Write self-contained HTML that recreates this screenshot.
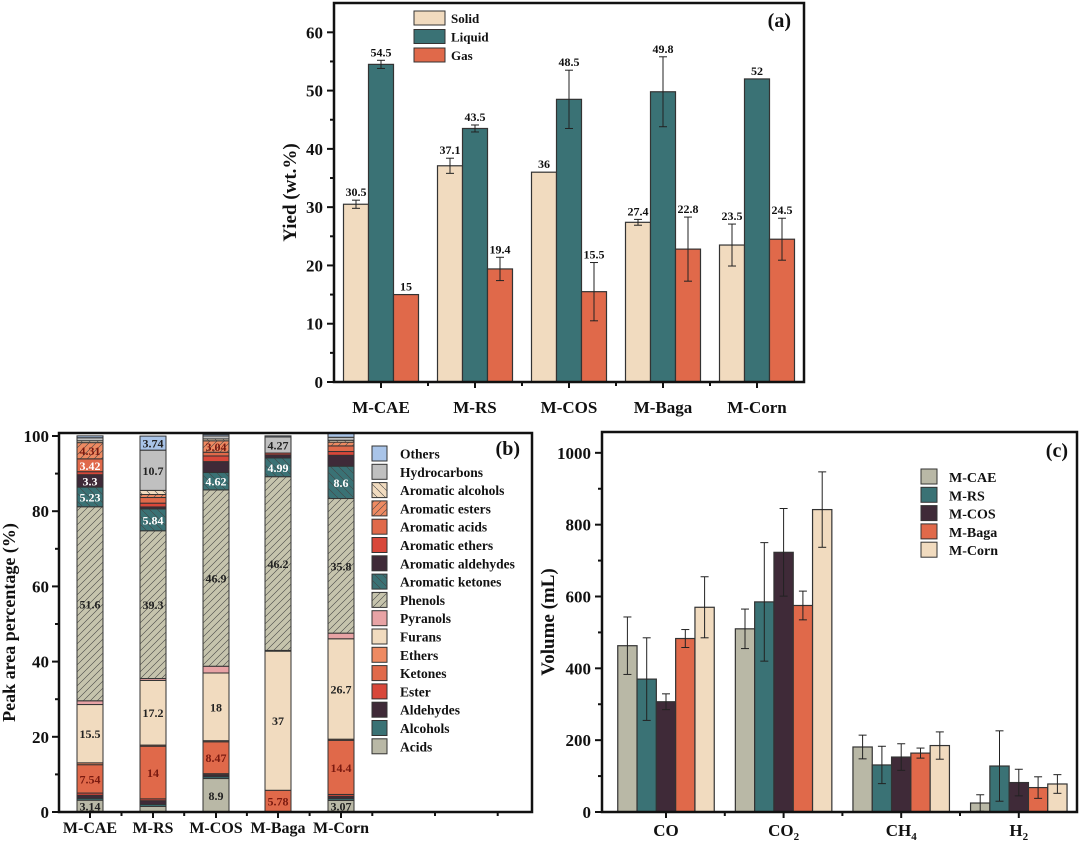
<!DOCTYPE html>
<html><head><meta charset="utf-8"><style>
html,body{margin:0;padding:0;background:#fff;}
svg text{font-family:"Liberation Serif",serif;font-weight:bold;fill:#111;}
</style></head><body>
<svg id="fig" width="1080" height="843" viewBox="0 0 1080 843" xmlns="http://www.w3.org/2000/svg">
<defs>
<pattern id="hfw" width="7" height="7" patternUnits="userSpaceOnUse"><path d="M0,7 L7,0 M-1,1 L1,-1 M6,8 L8,6" stroke="#444" stroke-width="0.6"/></pattern>
<pattern id="hbk" width="8" height="8" patternUnits="userSpaceOnUse"><path d="M0,0 L8,8" stroke="#444" stroke-width="0.6"/></pattern>
</defs>
<g id="pa"></g>
<g id="pb"></g>
<g id="pc"></g>
</svg>
<script>
// ---------- Panel (a) data ----------
const aCategories = ["M-CAE","M-RS","M-COS","M-Baga","M-Corn"];
const aSeries = ["Solid","Liquid","Gas"];
const aSolid = [30.5,37.1,36,27.4,23.5];
const aLiquid = [54.5,43.5,48.5,49.8,52];
const aGas = [15,19.4,15.5,22.8,24.5];
const aSolidErr = [0.7,1.3,0,0.5,3.6];
const aLiquidErr = [0.7,0.6,5,6,0];
const aGasErr = [0,2,5,5.5,3.6];
const aTicks = [0,10,20,30,40,50,60];

// ---------- Panel (b) data ----------
const bCategories = ["M-CAE","M-RS","M-COS","M-Baga","M-Corn"];
const bComponents = ["Acids","Alcohols","Aldehydes","Ester","Ketones","Ethers","Furans","Pyranols","Phenols","Aromatic ketones","Aromatic aldehydes","Aromatic ethers","Aromatic acids","Aromatic esters","Aromatic alcohols","Hydrocarbons","Others"];
const bCAE  = [3.14,0.5,0.8,0.6,7.54,0.5,15.5,1.0,51.6,5.23,3.3,0.8,3.42,4.31,0.5,0.8,0.5];
const bRS   = [1.5,0.5,1.0,0.5,14,0.3,17.2,0.5,39.3,5.84,0.5,1.0,1.5,0.8,1.1,10.7,3.74];
const bCOS  = [8.9,0.5,0.5,0.3,8.47,0.3,18,1.8,46.9,4.62,2.9,1.5,1.0,3.04,0.5,0.8,0.4];
const bBaga = [0,0,0,0,5.78,0,37,0.2,46.2,4.99,0.8,0.5,0,0,0,4.27,0.3];
const bCorn = [3.07,0.5,0.6,0.5,14.4,0.3,26.7,1.5,35.8,8.6,2.9,1.0,1.5,1.0,0.5,0.8,1.0];
const bTicks = [0,20,40,60,80,100];

// ---------- Panel (c) data ----------
const cGases = ["CO","CO2","CH4","H2"];
const cSamples = ["M-CAE","M-RS","M-COS","M-Baga","M-Corn"];
const cCAE  = [463,510,181,25];
const cRS   = [370,585,131,128];
const cCOS  = [307,723,153,82];
const cBaga = [483,575,164,68];
const cCorn = [570,842,185,78];
const cCAEErr  = [80,55,33,23];
const cRSErr   = [115,165,52,98];
const cCOSErr  = [22,122,37,37];
const cBagaErr = [25,40,14,30];
const cCornErr = [85,105,38,26];
const cTicks = [0,200,400,600,800,1000];

const NS="http://www.w3.org/2000/svg";
function mk(parent,tag,attrs){const e=document.createElementNS(NS,tag);for(const k in attrs)e.setAttribute(k,attrs[k]);parent.appendChild(e);return e;}
function txt(parent,x,y,s,size,anchor,fill){const t=mk(parent,"text",{x:x,y:y,"font-size":size,"text-anchor":anchor||"middle"});if(fill)t.style.fill=fill;t.textContent=s;return t;}
function errbar(g,x,y1,y2,w){mk(g,"line",{x1:x,x2:x,y1:y1,y2:y2,stroke:"#222","stroke-width":1});mk(g,"line",{x1:x-w,x2:x+w,y1:y1,y2:y1,stroke:"#222","stroke-width":1});mk(g,"line",{x1:x-w,x2:x+w,y1:y2,y2:y2,stroke:"#222","stroke-width":1});}

// ===== Panel A =====
(function(){
 const g=document.getElementById("pa");
 const L=334,R=804,T=3,B=382,ymax=65.03;
 const y=v=>B-(v/ymax)*(B-T);
 const step=(R-L)/5, x0=L+step/2, bw=25;
 const cols=["#f1dbbf","#3a7275","#e0694a"];
 const vals=[aSolid,aLiquid,aGas], errs=[aSolidErr,aLiquidErr,aGasErr];
 aCategories.forEach((c,i)=>{
  const cx=x0+i*step;
  for(let s=0;s<3;s++){
   const bx=cx+(s-1)*bw-bw/2, v=vals[s][i];
   const r=mk(g,"rect",{x:bx,y:y(v),width:bw,height:B-y(v),fill:cols[s],stroke:"#333","stroke-width":1.2});
   
   
   const e=errs[s][i];
   if(e>0)errbar(g,bx+bw/2,y(v+e),y(v-e),4);
   const lt=txt(g,bx+bw/2,y(v+e)-4,String(v),12);
   
   
  }
  mk(g,"line",{x1:cx,x2:cx,y1:B,y2:B+6,stroke:"#111","stroke-width":2});
  if(i<4)mk(g,"line",{x1:cx+step/2,x2:cx+step/2,y1:B,y2:B+4,stroke:"#111","stroke-width":2});
  const xl=txt(g,cx,B+31,c,17);
  
  
 });
 mk(g,"rect",{x:L,y:T,width:R-L,height:B-T,fill:"none",stroke:"#111","stroke-width":2.5});
 aTicks.forEach(t=>{
  mk(g,"line",{x1:L-7,x2:L,y1:y(t),y2:y(t),stroke:"#111","stroke-width":2});
  if(t<60)mk(g,"line",{x1:L-4,x2:L,y1:y(t+5),y2:y(t+5),stroke:"#111","stroke-width":2});
  const tl=txt(g,L-11,y(t)+6,String(t),17,"end");
  
  
 });
 const yt=txt(g,0,0,"Yied (wt.%)",19);
 yt.setAttribute("transform","translate(296,"+((T+B)/2)+") rotate(-90)");
 
 
 const pl=txt(g,791,27,"(a)",20,"end");
 
 
 aSeries.forEach((s,i)=>{
  const ly=11+i*18.5;
  const lg=mk(g,"g",{});
  
  
  mk(lg,"rect",{x:414,y:ly,width:31,height:14,fill:cols[i],stroke:"#333","stroke-width":1});
  txt(lg,451,ly+12,s,13,"start");
 });
})();

// ===== Panel B =====
(function(){
 const g=document.getElementById("pb");
 const L=59,R=532,T=433,B=812,ymax=100.8;
 const y=v=>B-(v/ymax)*(B-T);
 const centers=[90,153,216,278,341], bw=26;
 const fills=["#b9b8a6","#3a7275","#3f2a38","#d8473a","#e0694a","#ee8a62","#f1dbbf","#e8a3a5","#c6c4ad","#3a7275","#3f2a38","#d8473a","#e0694a","#ee8a62","#f1dbbf","#c0c0c0","#a9c4e8"];
 const hatch=[null,null,null,null,null,null,null,null,"hfw","hbk",null,null,null,"hfw","hbk",null,null];
 const txtCol=["#222","#fff","#fff","#fff","#7a1a10","#222","#222","#222","#222","#fff","#fff","#fff","#fff","#7a1a10","#222","#222","#222"];
 const data=[bCAE,bRS,bCOS,bBaga,bCorn];
 data.forEach((arr,i)=>{
  let acc=0; const cx=centers[i];
  arr.forEach((v,k)=>{
   if(v<=0)return;
   const y1=y(acc+v),y0=y(acc);
   const r=mk(g,"rect",{x:cx-bw/2,y:y1,width:bw,height:y0-y1,fill:fills[k],stroke:"#333","stroke-width":1});
   
   
   if(hatch[k])mk(g,"rect",{x:cx-bw/2,y:y1,width:bw,height:y0-y1,fill:"url(#"+hatch[k]+")",stroke:"none"});
   if(v>=3){const t=txt(g,cx,(y0+y1)/2+4.5,String(v),12,"middle",txtCol[k]);
    
    }
   acc+=v;
  });
  mk(g,"line",{x1:cx,x2:cx,y1:B,y2:B+6,stroke:"#111","stroke-width":2});
  const xl=txt(g,cx,B+21,bCategories[i],16);
  
  
 });
 for(let k=0;k<7;k++)mk(g,"line",{x1:121.5+k*62.7,x2:121.5+k*62.7,y1:B,y2:B+4,stroke:"#111","stroke-width":2});
 mk(g,"rect",{x:L,y:T,width:R-L,height:B-T,fill:"none",stroke:"#111","stroke-width":2.5});
 bTicks.forEach(t=>{
  mk(g,"line",{x1:L-7,x2:L,y1:y(t),y2:y(t),stroke:"#111","stroke-width":2});
  if(t<100)mk(g,"line",{x1:L-4,x2:L,y1:y(t+10),y2:y(t+10),stroke:"#111","stroke-width":2});
  const tl=txt(g,L-10,y(t)+6,String(t),17,"end");
  
  
 });
 const yt=txt(g,0,0,"Peak area percentage  (%)",18);
 yt.setAttribute("transform","translate(15,"+((T+B)/2)+") rotate(-90)");
 
 
 const pl=txt(g,520,455,"(b)",20,"end");
 
 
 for(let j=0;j<17;j++){
  const k=16-j, ly=446+j*18.3;
  const lg=mk(g,"g",{});
  
  
  mk(lg,"rect",{x:372,y:ly,width:15,height:15,fill:fills[k],stroke:"#333","stroke-width":1});
  if(hatch[k])mk(lg,"rect",{x:372,y:ly,width:15,height:15,fill:"url(#"+hatch[k]+")"});
  txt(lg,400,ly+12.5,bComponents[k],13.5,"start");
 }
})();

// ===== Panel C =====
(function(){
 const g=document.getElementById("pc");
 const L=602,R=1077,T=432,B=812,ymax=1058;
 const y=v=>B-(v/ymax)*(B-T);
 const step=117.6, x0=666, bw=19.3;
 const cols=["#b9b8a6","#3a7275","#3f2a38","#e0694a","#f1dbbf"];
 const vals=[cCAE,cRS,cCOS,cBaga,cCorn], errs=[cCAEErr,cRSErr,cCOSErr,cBagaErr,cCornErr];
 const gasLab=[["CO",""],["CO","2"],["CH","4"],["H","2"]];
 cGases.forEach((gs,i)=>{
  const cx=x0+i*step;
  for(let s=0;s<5;s++){
   const bx=cx+(s-2)*bw-bw/2, v=vals[s][i];
   const r=mk(g,"rect",{x:bx,y:y(v),width:bw,height:B-y(v),fill:cols[s],stroke:"#333","stroke-width":1.2});
   
   
   const e=errs[s][i];
   errbar(g,bx+bw/2,y(v+e),y(Math.max(0,v-e)),4);
  }
  mk(g,"line",{x1:cx,x2:cx,y1:B,y2:B+6,stroke:"#111","stroke-width":2});
  if(i<3)mk(g,"line",{x1:cx+step/2,x2:cx+step/2,y1:B,y2:B+4,stroke:"#111","stroke-width":2});
  const t=mk(g,"text",{x:cx,y:B+24,"font-size":17,"text-anchor":"middle"});
  
  
  t.appendChild(document.createTextNode(gasLab[i][0]));
  if(gasLab[i][1]){const sp=mk(t,"tspan",{"font-size":11,dy:4});sp.textContent=gasLab[i][1];}
 });
 mk(g,"rect",{x:L,y:T,width:R-L,height:B-T,fill:"none",stroke:"#111","stroke-width":2.5});
 cTicks.forEach(t=>{
  mk(g,"line",{x1:L-7,x2:L,y1:y(t),y2:y(t),stroke:"#111","stroke-width":2});
  if(t<1000)mk(g,"line",{x1:L-4,x2:L,y1:y(t+100),y2:y(t+100),stroke:"#111","stroke-width":2});
  const tl=txt(g,L-11,y(t)+6,String(t),17,"end");
  
  
 });
 const yt=txt(g,0,0,"Volume (mL)",19);
 yt.setAttribute("transform","translate(554,"+((T+B)/2)+") rotate(-90)");
 
 
 const pl=txt(g,1068,457,"(c)",20,"end");
 
 
 cSamples.forEach((s,i)=>{
  const ly=469+i*18.3;
  const lg=mk(g,"g",{});
  
  
  mk(lg,"rect",{x:921,y:ly,width:16,height:15,fill:cols[i],stroke:"#333","stroke-width":1});
  txt(lg,949,ly+13,s,14,"start");
 });
})();
</script>
</body></html>
